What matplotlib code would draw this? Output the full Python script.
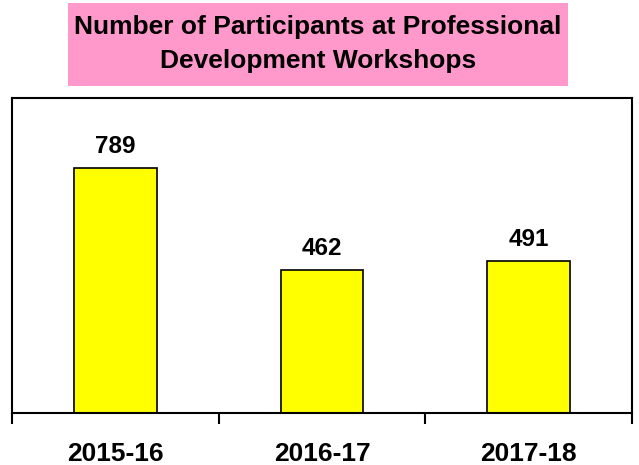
import matplotlib
matplotlib.use('Agg')
import matplotlib.pyplot as plt
from matplotlib.patches import Rectangle

# chart data
years = ['2015-16', '2016-17', '2017-18']
participants = [789, 462, 491]

plt.rcParams['font.family'] = ['Liberation Sans', 'DejaVu Sans']

fig = plt.figure(figsize=(6.39, 4.65), dpi=100)

# pink title box
fig.patches.append(Rectangle((68/639, 1 - 86/465), 500/639, 83/465,
                             transform=fig.transFigure, facecolor='#FF99CC',
                             edgecolor='none', zorder=0))
fig.text(318/639, 1 - 44/465, 'Number of Participants at Professional\nDevelopment Workshops',
         ha='center', va='center', fontsize=19, fontweight='bold', linespacing=1.55)

ax = fig.add_axes([12/639, 52/465, 620/639, 315/465])
x = range(len(years))
ax.bar(x, participants, width=0.4, color='#FFFF00', edgecolor='black', linewidth=1.2)
for i, v in enumerate(participants):
    ax.text(i, v + 32, str(v), ha='center', va='bottom', fontsize=17.5, fontweight='bold')

ax.set_xlim(-0.5, len(years) - 0.5)
ax.set_ylim(0, 1015)
ax.set_yticks([])
ax.set_xticks([-0.5, 0.5, 1.5, 2.5])
ax.set_xticklabels([])
ax.tick_params(axis='x', which='major', length=8, width=1.5, direction='out')
ax.set_xticks(list(x), minor=True)
ax.set_xticklabels(years, minor=True, fontsize=19, fontweight='bold')
ax.tick_params(axis='x', which='minor', length=0, pad=21)
for s in ax.spines.values():
    s.set_linewidth(1.5)

plt.savefig('out.png', dpi=100)
